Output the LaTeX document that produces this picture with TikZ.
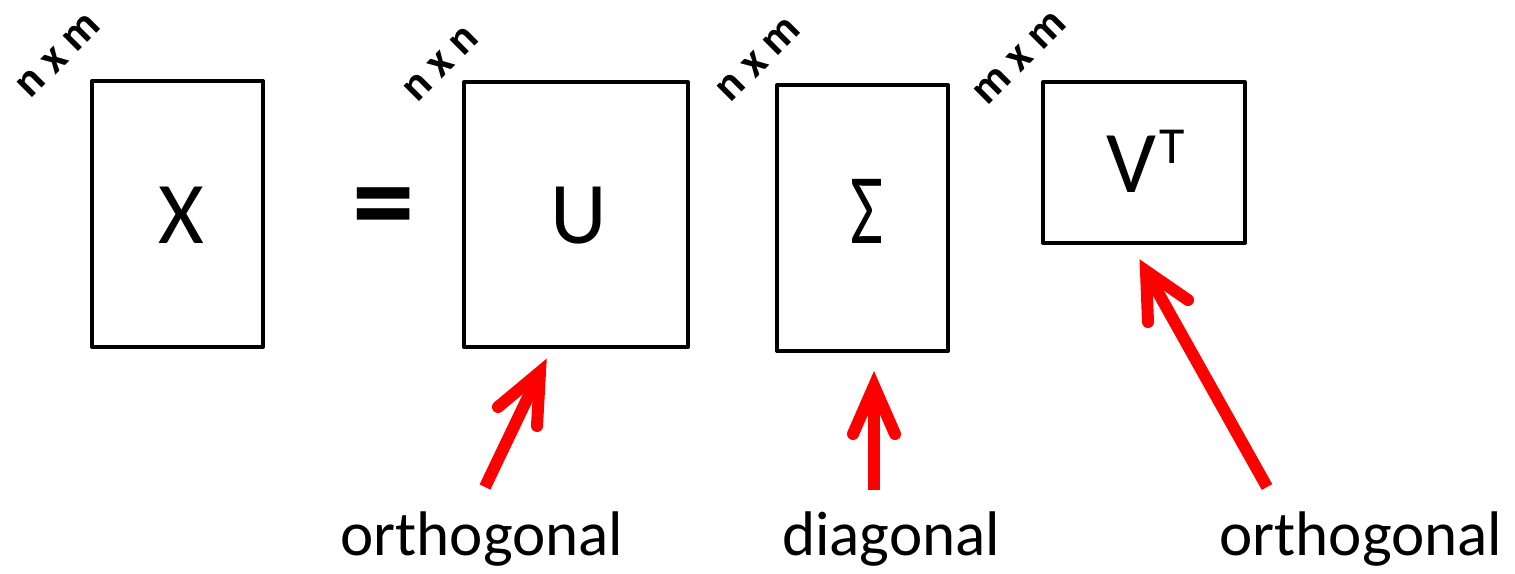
\documentclass[tikz,border=0pt]{standalone}
\usepackage{fontspec}
\setmainfont{Carlito}
\begin{document}
\begin{tikzpicture}[x=1pt,y=-1pt,
  big/.style={font=\fontsize{88}{88}\selectfont,anchor=base,inner sep=0pt},
  lbl/.style={font=\fontsize{63}{63}\selectfont,anchor=base,inner sep=0pt},
  dim/.style={font=\bfseries\fontsize{45}{45}\selectfont,rotate=45,inner sep=0pt},
  box/.style={line width=4pt,line join=round},
  shaft/.style={draw=red,line width=12pt,line cap=butt},
  barb/.style={draw=red,line width=12pt,line cap=round,line join=miter}]
\useasboundingbox (0,0) rectangle (1515,573);
% boxes
\draw[box] (92,81) rectangle (263,347);
\draw[box] (464,82) rectangle (688,347);
\draw[box] (777,85) rectangle (948,351);
\draw[box] (1043,82) rectangle (1245,243);
% texts
\node[big] (tX) at (181,243) {X};
\node[font=\bfseries\fontsize{125}{125}\selectfont,anchor=base,inner sep=0pt] (teq) at (384,243) {=};
\node[big] (tU) at (579,243) {U};
\node[font=\fontsize{100}{100}\selectfont,anchor=base,inner sep=0pt] (tS) at (867,243) {\scalebox{0.72}[1]{Σ}};
\node[big,anchor=base west] (tV) at (1106,192) {V\hspace{3pt}\raisebox{29pt}{\fontsize{52}{52}\selectfont T}};
% dimension labels
\node[dim] (dX) at (59,56) {n x m};
\node[dim] (dU) at (441,64) {n x n};
\node[dim] (dS) at (759,60) {n x m};
\node[dim] (dV) at (1020,58) {m x m};
% bottom labels
\node[lbl] (l1) at (482,555) {orthogonal};
\node[lbl] (l2) at (891,555) {diagonal};
\node[lbl] (l3) at (1361,555) {orthogonal};
% arrows
\coordinate (aUt) at (485,487); \coordinate (aUh) at (540,372);
\coordinate (aU1) at (498,407); \coordinate (aU2) at (537,426);
\draw[shaft] (aUt) -- (aUh);
\draw[barb] (aU1) -- (aUh) -- (aU2);
\coordinate (aSt) at (874,490); \coordinate (aSh) at (874,386);
\coordinate (aS1) at (853,434); \coordinate (aS2) at (895,434);
\draw[shaft] (aSt) -- (aSh);
\draw[barb] (aS1) -- (aSh) -- (aS2);
\coordinate (aVt) at (1267,487); \coordinate (aVh) at (1146,271);
\coordinate (aV1) at (1148,322); \coordinate (aV2) at (1188,300);
\draw[shaft] (aVt) -- (aVh);
\draw[barb] (aV1) -- (aVh) -- (aV2);
\end{tikzpicture}
\end{document}
